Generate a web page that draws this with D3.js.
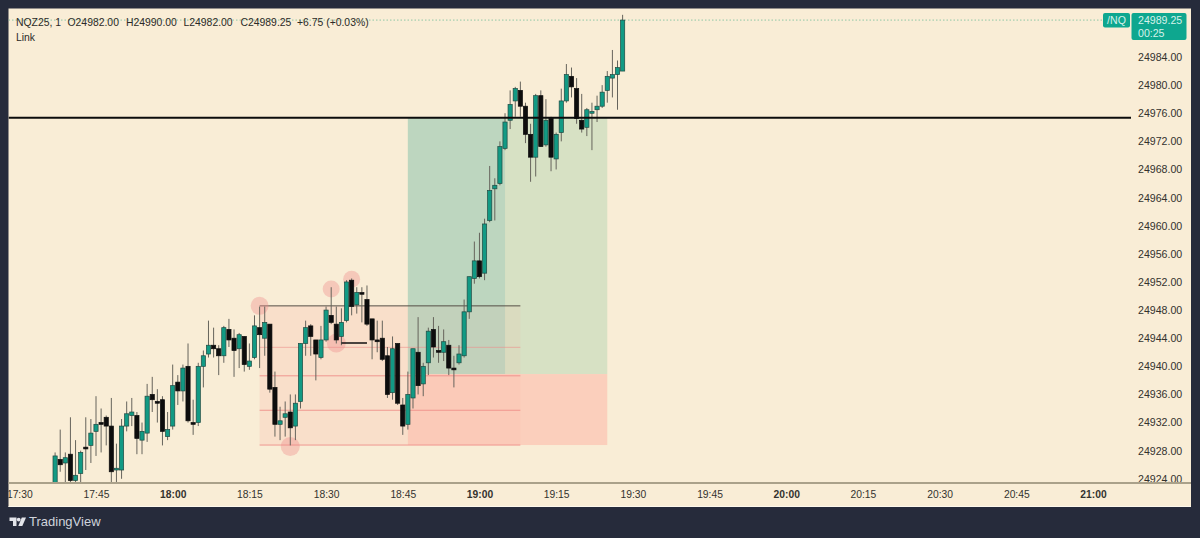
<!DOCTYPE html>
<html>
<head>
<meta charset="utf-8">
<script src="https://cdn.jsdelivr.net/npm/d3@7"></script>
<style>
  html, body { margin: 0; padding: 0; background: #262b3b; }
  svg { display: block; font-family: "Liberation Sans", Arial, sans-serif; }
</style>
</head>
<body>
<svg id="chart" width="1200" height="538"></svg>
<script>
// candle data, one minute bars
const candleTimes = [
  '17:37','17:38','17:39','17:40','17:41','17:42','17:43','17:44','17:45','17:46',
  '17:47','17:48','17:49','17:50','17:51','17:52','17:53','17:54','17:55','17:56',
  '17:57','17:58','17:59','18:00','18:01','18:02','18:03','18:04','18:05','18:06',
  '18:07','18:08','18:09','18:10','18:11','18:12','18:13','18:14','18:15','18:16',
  '18:17','18:18','18:19','18:20','18:21','18:22','18:23','18:24','18:25','18:26',
  '18:27','18:28','18:29','18:30','18:31','18:32','18:33','18:34','18:35','18:36',
  '18:37','18:38','18:39','18:40','18:41','18:42','18:43','18:44','18:45','18:46',
  '18:47','18:48','18:49','18:50','18:51','18:52','18:53','18:54','18:55','18:56',
  '18:57','18:58','18:59','19:00','19:01','19:02','19:03','19:04','19:05','19:06',
  '19:07','19:08','19:09','19:10','19:11','19:12','19:13','19:14','19:15','19:16',
  '19:17','19:18','19:19','19:20','19:21','19:22','19:23','19:24','19:25','19:26',
  '19:27','19:28'
];
const opens = [
  24922.5, 24926.75, 24926.25, 24927.5, 24923.75, 24924.75, 24928.5, 24928.75, 24930.75, 24932,
  24932.75, 24931.5, 24925.25, 24925.25, 24931.5, 24933, 24933, 24929.5, 24930.5, 24936,
  24935, 24935.25, 24930, 24931.5, 24937.75, 24936.5, 24940, 24932, 24932, 24940,
  24941.75, 24943, 24942.5, 24941.5, 24945.25, 24944, 24942.5, 24944.25, 24940, 24941.25,
  24945.5, 24944, 24946, 24937, 24931.75, 24932.75, 24933.5, 24931.5, 24935, 24943.25,
  24945.75, 24943.75, 24941.25, 24943.75, 24947.25, 24946, 24944.25, 24946.5, 24952.25, 24948.75,
  24950.5, 24949.5, 24946.75, 24943.75, 24944, 24941.5, 24936.25, 24943.25, 24934.5, 24931.75,
  24935.5, 24942, 24937.5, 24940.5, 24945.25, 24942.25, 24942, 24943, 24939.75, 24940.5,
  24941.5, 24947.75, 24952.5, 24955, 24953.25, 24960.75, 24965.25, 24966, 24971, 24975,
  24977.75, 24979.25, 24977, 24973, 24969.75, 24978.5, 24971.5, 24975.25, 24969.5, 24973.25,
  24977.75, 24981.25, 24979.5, 24975, 24974, 24976, 24976.5, 24977, 24979.25, 24981,
  24981.5, 24982
];
const closes = [
  24927.25, 24926, 24927, 24923.75, 24924.5, 24927.75, 24928.25, 24930.5, 24931.75, 24931.75,
  24931.5, 24925, 24925.5, 24931.5, 24933.25, 24933.5, 24929.75, 24930.75, 24935.75, 24935.25,
  24934.75, 24930.75, 24931, 24937.25, 24936.5, 24939.75, 24932.25, 24931.75, 24940, 24941.5,
  24943, 24942.5, 24941.5, 24945.5, 24943.75, 24942.25, 24944.5, 24940.25, 24940.75, 24945.75,
  24944.5, 24946.25, 24936.75, 24931.75, 24932.25, 24933.25, 24931.25, 24934.75, 24943.25, 24945.5,
  24944.25, 24941.75, 24943.75, 24948, 24946.25, 24943.75, 24946.25, 24952, 24948.5, 24950.5,
  24950.25, 24946, 24943.75, 24943.5, 24941, 24936, 24942.5, 24934.75, 24931.5, 24936,
  24942.5, 24937.25, 24940, 24945, 24942.75, 24942, 24943.5, 24939.75, 24939.5, 24941.75,
  24947.75, 24952.75, 24955, 24952.75, 24960.25, 24965, 24965.75, 24971.25, 24974.75, 24977.25,
  24979.5, 24977, 24973, 24969.75, 24978.5, 24971.25, 24975, 24969.75, 24973, 24977.75,
  24981.5, 24979.75, 24975.25, 24973.75, 24976.5, 24976.25, 24977, 24979, 24981.25, 24981.5,
  24982.5, 24989.25
];
const highs = [
  24927.75, 24931, 24927.75, 24932.75, 24929.5, 24928, 24932.75, 24932.5, 24935.75, 24934,
  24933, 24935.5, 24929, 24932.5, 24935, 24935.5, 24933.5, 24932, 24937.5, 24938.5,
  24936.75, 24935.75, 24933.5, 24940.25, 24938.75, 24940.25, 24943.25, 24935.25, 24940.5, 24942.25,
  24946.5, 24945.5, 24943, 24945.75, 24946.75, 24945.25, 24944.75, 24944.25, 24943.25, 24947.25,
  24948.5, 24948.5, 24946, 24939.25, 24934.25, 24935, 24936, 24936, 24943.25, 24946.5,
  24946, 24943.75, 24945.75, 24948.5, 24951.25, 24948.5, 24948.25, 24952.25, 24952.5, 24951.25,
  24951.25, 24951.5, 24946.75, 24946.5, 24946.5, 24942.75, 24944.25, 24943.25, 24935.5, 24939.25,
  24942.5, 24947, 24940.5, 24945.5, 24947, 24945.75, 24945.25, 24943.75, 24941.5, 24943,
  24949.5, 24952.75, 24957.75, 24959, 24961, 24968.5, 24966.75, 24972, 24976, 24979.25,
  24979.75, 24980.5, 24977.5, 24974.5, 24978.75, 24979.25, 24978, 24975.5, 24973.25, 24979.5,
  24983, 24982.5, 24981, 24978.75, 24976.75, 24977.5, 24978.5, 24980, 24982, 24985,
  24983.5, 24990
];
const lows = [
  24922.25, 24925, 24923, 24923.25, 24923, 24923.25, 24925.25, 24926.25, 24927.25, 24927.75,
  24928.75, 24923, 24923, 24924, 24930.75, 24931.5, 24927.5, 24927.5, 24929.25, 24933.5,
  24932, 24928.75, 24929.5, 24931, 24934.5, 24935, 24932, 24930.25, 24931.5, 24937,
  24941.25, 24941.25, 24938.75, 24940.5, 24942.75, 24938.5, 24939.75, 24939.25, 24939.5, 24941,
  24939.75, 24941.5, 24936.25, 24930, 24929.5, 24930, 24928.75, 24929.5, 24934, 24941.5,
  24941.5, 24938, 24941, 24943.5, 24946, 24943.25, 24943, 24946.25, 24947.25, 24947.5,
  24946.25, 24945.75, 24941, 24942, 24940.75, 24935.5, 24935.25, 24934.5, 24930.25, 24931,
  24934, 24936, 24935.75, 24938.75, 24941.25, 24940.5, 24940.75, 24938.75, 24937, 24940.25,
  24941.25, 24946.75, 24951.75, 24952.5, 24952.25, 24960.5, 24960.75, 24965.75, 24970.75, 24973.75,
  24975.5, 24975.5, 24971.75, 24966.25, 24967, 24971.25, 24971.25, 24967.75, 24968, 24972,
  24977.5, 24978.25, 24974.5, 24973.25, 24972.75, 24970.75, 24974.75, 24976.75, 24977.5, 24978.25,
  24976.5, 24982
];

// axis labels
const timeTicks = ['17:30','17:45','18:00','18:15','18:30','18:45','19:00','19:15','19:30','19:45','20:00','20:15','20:30','20:45','21:00'];
const priceTicks = [24984,24980,24976,24972,24968,24964,24960,24956,24952,24948,24944,24940,24936,24932,24928,24924];

// drawings on the chart
const resistancePrice = 24975.35;
const lastPrice = 24989.25;
const rangeStart = '18:17', rangeEnd = '19:08';
const rangeTop = 24948.6, rangeBottom = 24928.8;
const rangeLevels = [24942.7, 24938.65, 24933.75, 24928.8];
const rangeLevelOpacity = [0.6, 0.9, 0.9, 0.9];
const tradeStart = '18:46', tradeMid = '19:05', tradeEnd = '19:25';
const tradeEntry = 24938.9;
const markerTimes = ['18:17', '18:31', '18:35', '18:23', '18:32'];
const markerPrices = [24948.6, 24951, 24952.4, 24928.6, 24943.3];
const markerRadius = [9, 8.5, 8.5, 9.5, 9.5];
const shortLineTimes = ['18:33', '18:38'];
const shortLinePrice = 24943.3;

const toMin = (s) => { const p = s.split(':'); return +p[0] * 60 + +p[1]; };
const fmtTime = (m) => d3.format('02')(Math.floor(m / 60)) + ':' + d3.format('02')(m % 60);

const svg = d3.select('#chart');

// panel
svg.append('rect').attr('x', 8.5).attr('y', 8.5).attr('width', 1182.5).attr('height', 498.5).attr('fill', '#f9edd6');
svg.append('line').attr('x1', 8.5).attr('x2', 1191).attr('y1', 506.5).attr('y2', 506.5).attr('stroke', '#fdf8ec');

const defs = svg.append('defs');
defs.append('clipPath').attr('id', 'plot').append('rect').attr('x', 8.5).attr('y', 8.5).attr('width', 1123).attr('height', 474);
defs.append('clipPath').attr('id', 'panel').append('rect').attr('x', 8.5).attr('y', 8.5).attr('width', 1182.5).attr('height', 498.5);

const x = d3.scaleLinear().domain([toMin('17:45'), toMin('21:00')]).range([96, 1093]);
const y = d3.scaleLinear().domain([24924, 24984]).range([478.8, 57]);

const plot = svg.append('g').attr('clip-path', 'url(#plot)');

// long position box
plot.append('rect').attr('x', x(toMin(tradeStart))).attr('width', x(toMin(tradeEnd)) - x(toMin(tradeStart)))
  .attr('y', y(resistancePrice)).attr('height', y(tradeEntry) - y(resistancePrice)).attr('fill', '#d7e1c4');
plot.append('rect').attr('x', x(toMin(tradeStart))).attr('width', x(toMin(tradeMid)) - x(toMin(tradeStart)))
  .attr('y', y(resistancePrice)).attr('height', y(tradeEntry) - y(resistancePrice)).attr('fill', '#bdd6bf');
plot.append('rect').attr('x', x(toMin(tradeStart))).attr('width', x(toMin(tradeEnd)) - x(toMin(tradeStart)))
  .attr('y', y(tradeEntry)).attr('height', y(rangeBottom) - y(tradeEntry)).attr('fill', '#fbcfbc');

// fib range box, it shows much less over the trade box
plot.append('rect').attr('x', x(toMin(rangeStart))).attr('width', x(toMin(tradeStart)) - x(toMin(rangeStart)))
  .attr('y', y(rangeTop)).attr('height', y(rangeBottom) - y(rangeTop)).attr('fill', 'rgba(250,150,140,0.16)');
plot.append('rect').attr('x', x(toMin(tradeStart))).attr('width', x(toMin(rangeEnd)) - x(toMin(tradeStart)))
  .attr('y', y(rangeTop)).attr('height', y(rangeBottom) - y(rangeTop)).attr('fill', 'rgba(250,150,140,0.08)');
plot.selectAll('.level').data(rangeLevels).join('line').attr('class', 'level')
  .attr('x1', x(toMin(rangeStart))).attr('x2', x(toMin(rangeEnd)))
  .attr('y1', (d) => y(d)).attr('y2', (d) => y(d))
  .attr('stroke', '#ee8f8a').attr('stroke-width', 1).attr('stroke-opacity', (d, i) => rangeLevelOpacity[i]);
plot.append('line').attr('x1', x(toMin(rangeStart))).attr('x2', x(toMin(rangeEnd)))
  .attr('y1', y(rangeTop)).attr('y2', y(rangeTop)).attr('stroke', '#554f46').attr('stroke-width', 1);

// pink swing markers
plot.selectAll('.marker').data(markerTimes).join('circle').attr('class', 'marker')
  .attr('cx', (d) => x(toMin(d))).attr('cy', (d, i) => y(markerPrices[i])).attr('r', (d, i) => markerRadius[i])
  .attr('fill', 'rgba(238,140,140,0.38)');

// last price dotted line
plot.append('line').attr('x1', 8.5).attr('x2', 1103).attr('y1', y(lastPrice)).attr('y2', y(lastPrice))
  .attr('stroke', '#8fc9a6').attr('stroke-width', 1).attr('stroke-dasharray', '1.5 2');

// candles
const candles = candleTimes.map((t, i) => ({ t: toMin(t), o: opens[i], h: highs[i], l: lows[i], c: closes[i] }));
const bar = plot.selectAll('.candle').data(candles).join('g').attr('class', 'candle');
bar.append('line').attr('x1', (d) => x(d.t)).attr('x2', (d) => x(d.t))
  .attr('y1', (d) => y(d.h)).attr('y2', (d) => y(d.l))
  .attr('stroke', '#66645c').attr('stroke-width', 1);
bar.append('rect').attr('x', (d) => x(d.t) - 2.1).attr('width', 4.2)
  .attr('y', (d) => y(Math.max(d.o, d.c)))
  .attr('height', (d) => Math.max(Math.abs(y(d.o) - y(d.c)), 1.2))
  .attr('fill', (d) => (d.c >= d.o ? '#129a84' : '#0d0d0d'))
  .attr('stroke', (d) => (d.c >= d.o ? '#1f4a42' : '#0d0d0d')).attr('stroke-width', 0.7);

// black levels
plot.append('line').attr('x1', 8.5).attr('x2', 1131).attr('y1', y(resistancePrice)).attr('y2', y(resistancePrice))
  .attr('stroke', '#0c0c0c').attr('stroke-width', 2);
plot.append('line').attr('x1', x(toMin(shortLineTimes[0]))).attr('x2', x(toMin(shortLineTimes[1])))
  .attr('y1', y(shortLinePrice)).attr('y2', y(shortLinePrice)).attr('stroke', '#111').attr('stroke-width', 1.5);

// price axis
const priceAxis = d3.axisRight(y).tickValues(priceTicks).tickFormat(d3.format('.2f')).tickSize(0).tickPadding(0);
const pa = svg.append('g').attr('transform', 'translate(1138,0)').call(priceAxis);
pa.select('.domain').remove();
pa.selectAll('text').attr('font-size', 10.6).attr('fill', '#33322e').attr('font-family', 'Liberation Sans');

// time axis
const timeAxis = d3.axisBottom(x).tickValues(timeTicks.map(toMin)).tickFormat(fmtTime).tickSize(0).tickPadding(0);
const ta = svg.append('g').attr('clip-path', 'url(#panel)').append('g').attr('transform', 'translate(0,491)').call(timeAxis);
ta.select('.domain').remove();
ta.selectAll('text').attr('font-size', 10.3).attr('fill', '#33322e').attr('font-family', 'Liberation Sans')
  .attr('font-weight', (d) => (d % 60 === 0 ? 700 : 400));

svg.append('line').attr('x1', 8.5).attr('x2', 1191).attr('y1', 483).attr('y2', 483)
  .attr('stroke', '#aaa18a').attr('stroke-width', 2);

// last price tags
svg.append('rect').attr('x', 1103).attr('y', 13).attr('width', 27).attr('height', 14.5).attr('rx', 2).attr('fill', '#0ea78f');
svg.append('text').attr('x', 1116.5).attr('y', 24).attr('text-anchor', 'middle').attr('font-size', 10.6).attr('fill', '#d6f2ea').text('/NQ');
svg.append('rect').attr('x', 1131.5).attr('y', 13).attr('width', 55).attr('height', 27).attr('rx', 2).attr('fill', '#0ea78f');
svg.append('text').attr('x', 1138).attr('y', 24).attr('font-size', 10.6).attr('fill', '#d6f2ea').text(d3.format('.2f')(lastPrice));
svg.append('text').attr('x', 1138).attr('y', 36.5).attr('font-size', 10.6).attr('fill', '#d6f2ea').text('00:25');

// legend
const legendParts = ['NQZ25, 1', 'O24982.00', 'H24990.00', 'L24982.00', 'C24989.25', '+6.75 (+0.03%)'];
const legendX = [16, 67.5, 126, 183.5, 240.5, 297];
svg.selectAll('.legend').data(legendParts).join('text').attr('class', 'legend')
  .attr('x', (d, i) => legendX[i]).attr('y', 25.5).attr('font-size', 10.4).attr('fill', '#2b2a27').text((d) => d);
svg.append('text').attr('x', 16).attr('y', 40.5).attr('font-size', 10.4).attr('fill', '#2b2a27').text('Link');

// watermark
const mark = svg.append('g').attr('fill', '#e3e5ea');
mark.append('path').attr('d', 'M9.5 517.5 H16.5 V526 H13 V521 H9.5 Z');
mark.append('circle').attr('cx', 18.7).attr('cy', 519.6).attr('r', 1.9);
mark.append('path').attr('d', 'M21.8 517.5 H26 L22.3 526 H18.3 Z');
svg.append('text').attr('x', 29).attr('y', 526).attr('font-size', 13).attr('fill', '#cfd3dc').text('TradingView');
</script>
</body>
</html>
